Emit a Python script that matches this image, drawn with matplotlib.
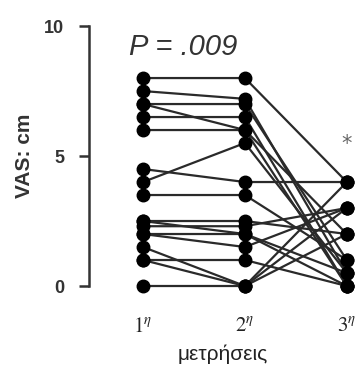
import numpy as np
import matplotlib.pyplot as plt

plt.rcParams['mathtext.fontset'] = 'stix'

# VAS values per subject at the three measurements
metr1 = [8.0, 7.5, 7.0, 7.0, 6.5, 6.0, 4.5, 4.0, 3.5, 2.5, 2.5, 2.3, 2.0, 2.0, 1.5, 1.0, 1.0, 0.0]
metr2 = [8.0, 7.2, 7.0, 6.0, 6.5, 6.0, 4.0, 5.5, 3.5, 2.5, 2.0, 2.3, 2.0, 1.5, 0.0, 1.0, 0.0, 0.0]
metr3 = [4.0, 0.5, 1.0, 0.0, 0.0, 2.0, 4.0, 0.5, 1.0, 2.0, 0.0, 3.0, 0.5, 3.0, 4.0, 0.0, 2.0, 3.0]
x_labels = [r'$\mathrm{1}^{\eta}$', r'$\mathrm{2}^{\eta}$', r'$\mathrm{3}^{\eta}$']

fig = plt.figure(figsize=(3.56, 3.68), dpi=100)
ax = fig.add_axes([0.25, 0.1875, 0.75, 0.777])

x = [1, 2, 3]
for a, b, c in zip(metr1, metr2, metr3):
    ax.plot(x, [a, b, c], color='#2a2a2a', lw=1.6, marker='o', ms=9,
            mfc='black', mec='black', clip_on=False, zorder=3)

ax.set_xlim(0.47, 3.09)
ax.set_ylim(-0.5, 10.5)
ax.set_yticks([0, 5, 10])
ax.set_yticklabels(['0', '5', '10'], fontweight='bold', fontsize=13,
                   color='#333333', family='Liberation Sans')
ax.set_xticks(x)
ax.set_xticklabels(x_labels, fontsize=15, color='#222222')
ax.tick_params(axis='x', length=0, pad=12)
ax.tick_params(axis='y', length=7, width=1.8, color='#333333', pad=11)

for s in ['top', 'right', 'bottom']:
    ax.spines[s].set_visible(False)
ax.spines['left'].set_bounds(0, 10)
ax.spines['left'].set_linewidth(1.8)
ax.spines['left'].set_color('#333333')

ax.set_ylabel('VAS: cm', fontsize=15, fontweight='bold', color='#333333',
              family='Liberation Sans', labelpad=7)
ax.set_xlabel('μετρήσεις', fontsize=15, color='#222222',
              family='Liberation Sans', labelpad=6)

ax.text(1.39, 9.2, 'P = .009', fontsize=21, style='italic', color='#333333',
        family='Liberation Sans', ha='center', va='center')
ax.text(3.0, 5.45, '*', fontsize=15, color='#666666', ha='center', va='center')

fig.savefig('out.png', dpi=100)
